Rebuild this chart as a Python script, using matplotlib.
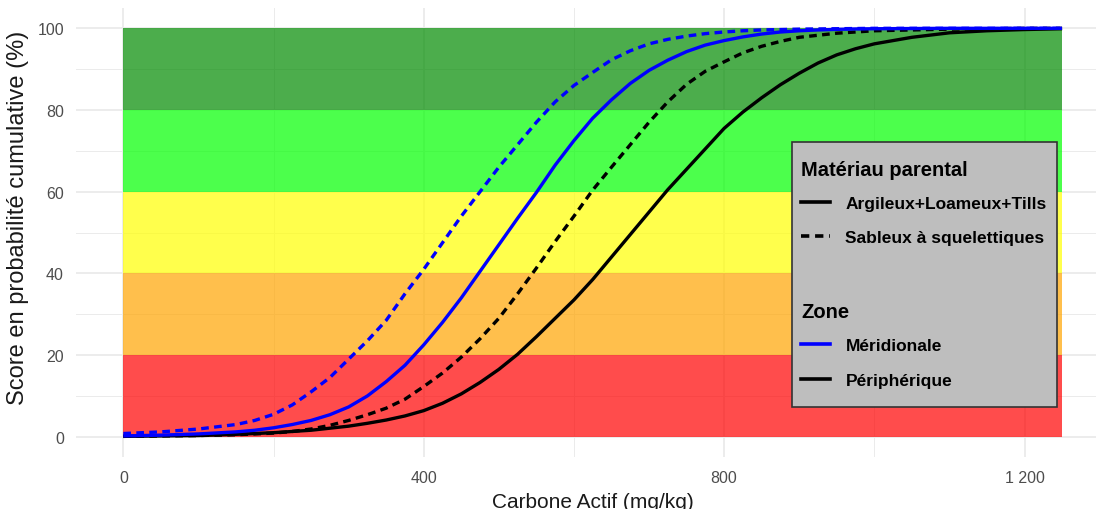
import matplotlib
matplotlib.use("Agg")
import matplotlib.pyplot as plt
from matplotlib.lines import Line2D
from matplotlib.patches import Rectangle

plt.rcParams['font.family'] = ['Liberation Sans', 'DejaVu Sans']

# ---- data ----
carbone = [0, 50, 100, 150, 175, 200, 225, 250, 275, 300, 325, 350, 375, 400, 425,
           450, 475, 500, 525, 550, 575, 600, 625, 650, 675, 700, 725, 750, 775,
           800, 825, 850, 875, 900, 925, 950, 975, 1000, 1050, 1100, 1150, 1200, 1250]

meri_argileux = [0.2, 0.4, 0.7, 1.2, 1.6, 2.2, 3.0, 4.0, 5.4, 7.3, 10.0, 13.5, 17.5,
                 22.5, 28.0, 34.0, 40.5, 47.0, 53.5, 59.8, 66.5, 72.5, 78.0, 82.5,
                 86.5, 89.7, 92.2, 94.3, 95.9, 97.0, 97.9, 98.6, 99.1, 99.4, 99.6,
                 99.75, 99.85, 99.9, 99.95, 100, 100, 100, 100]
meri_sableux = [0.8, 1.2, 1.9, 3.0, 4.0, 5.5, 7.8, 11.0, 14.5, 19.0, 23.5, 28.5, 35.0,
                41.0, 47.5, 54.0, 60.0, 66.0, 71.5, 77.0, 82.0, 86.0, 89.2, 92.3,
                94.5, 96.2, 97.3, 98.1, 98.7, 99.1, 99.4, 99.6, 99.7, 99.8, 99.85,
                99.9, 99.95, 100, 100, 100, 100, 100, 100]
peri_argileux = [0.1, 0.2, 0.3, 0.6, 0.8, 1.0, 1.3, 1.6, 2.1, 2.6, 3.3, 4.1, 5.1,
                 6.4, 8.2, 10.5, 13.3, 16.5, 20.2, 24.5, 29.0, 33.5, 38.5, 44.0,
                 49.5, 55.0, 60.5, 65.5, 70.5, 75.5, 79.5, 83.0, 86.2, 89.0, 91.5,
                 93.5, 95.0, 96.2, 97.8, 98.9, 99.4, 99.7, 99.9]
peri_sableux = [0.1, 0.2, 0.3, 0.5, 0.7, 0.9, 1.3, 1.9, 2.8, 4.0, 5.4, 7.0, 9.2,
                12.3, 15.6, 19.5, 24.0, 29.0, 35.0, 41.3, 47.8, 54.0, 60.4, 66.0,
                71.5, 77.0, 82.0, 86.3, 89.5, 91.8, 94.0, 95.6, 96.8, 97.8, 98.3,
                98.8, 99.1, 99.4, 99.6, 99.8, 99.9, 100, 100]

band_low = [0, 20, 40, 60, 80]
band_high = [20, 40, 60, 80, 100]
band_colors = ['#FF0000', '#FFA500', '#FFFF00', '#00FF00', '#008B00']
band_xmax = 1250

x_ticks = [0, 400, 800, 1200]
x_ticklabels = ['0', '400', '800', '1 200']
y_ticks = [0, 20, 40, 60, 80, 100]

zone_colors = {'Méridionale': '#0000FF', 'Périphérique': '#000000'}
mat_styles = {'Argileux+Loameux+Tills': '-', 'Sableux à squelettiques': (0, (2.3, 1.6))}

W, H = 1096, 510
fig = plt.figure(figsize=(W / 100, H / 100), dpi=100)
fig.patch.set_facecolor('white')

# axes geometry in pixels (panel extends slightly beyond the cropped image)
left_px, right_px, top_px, bottom_px = 76.4, 1109.0, 8.9, 458.2
ax = fig.add_axes([left_px / W, 1 - bottom_px / H, (right_px - left_px) / W,
                   (bottom_px - top_px) / H])
ax.set_xlim(-62.5, 1312.5)
ax.set_ylim(-5, 105)

# grid
for v in [0, 200, 400, 600, 800, 1000, 1200]:
    ax.axvline(v, color='#EBEBEB', lw=1.3 if v % 400 == 0 else 0.7, zorder=0)
for v in range(0, 101, 10):
    ax.axhline(v, color='#EBEBEB', lw=1.3 if v % 20 == 0 else 0.7, zorder=0)

# bands
for lo, hi, c in zip(band_low, band_high, band_colors):
    ax.fill_between([0, band_xmax], lo, hi, color=c, alpha=0.7, lw=0, zorder=1)

# curves
series = [
    ('Périphérique', 'Argileux+Loameux+Tills', peri_argileux),
    ('Périphérique', 'Sableux à squelettiques', peri_sableux),
    ('Méridionale', 'Argileux+Loameux+Tills', meri_argileux),
    ('Méridionale', 'Sableux à squelettiques', meri_sableux),
]
for zone, mat, vals in series:
    ax.plot(carbone, vals, color=zone_colors[zone], linestyle=mat_styles[mat],
            lw=2.4, zorder=3, solid_capstyle='butt', dash_capstyle='butt',
            solid_joinstyle='round')

for s in ax.spines.values():
    s.set_visible(False)
ax.tick_params(length=0, labelsize=11.5, labelcolor='#4D4D4D')
ax.tick_params(axis='x', pad=9)
ax.tick_params(axis='y', pad=9)
ax.set_xticks(x_ticks)
ax.set_xticklabels(x_ticklabels)
ax.set_yticks(y_ticks)
ax.set_xlabel('Carbone Actif (mg/kg)', fontsize=15, color='#1A1A1A', labelpad=5)
fig.text(18 / W, 1 - 218 / H, 'Score en probabilité cumulative (%)', rotation=90,
         ha='center', va='center', fontsize=17, color='#1A1A1A')

# legend box
fig.patches.append(Rectangle((792 / W, 1 - 408 / H), (1057 - 792) / W, (408 - 143) / H,
                             transform=fig.transFigure, facecolor='#BEBEBE',
                             edgecolor='#333333', lw=1.2, zorder=5))

h1 = [Line2D([], [], color='black', lw=2.6, linestyle=mat_styles[m]) for m in mat_styles]
h2 = [Line2D([], [], color=zone_colors[z], lw=2.6) for z in zone_colors]
common = dict(frameon=False, loc='upper left', borderpad=0, borderaxespad=0,
              handlelength=1.67, handletextpad=0.86, labelspacing=1.12,
              alignment='left',
              prop={'weight': 'bold', 'size': 12.5},
              title_fontproperties={'weight': 'bold', 'size': 14.5})
leg1 = fig.legend(h1, list(mat_styles), title='Matériau parental',
                  bbox_to_anchor=(801.5 / W, 1 - 161 / H), **common)
leg2 = fig.legend(h2, list(zone_colors), title='Zone',
                  bbox_to_anchor=(801.5 / W, 1 - 303.5 / H), **common)
for lg in (leg1, leg2):
    lg.set_zorder(6)
    lg._legend_box.sep = 12

fig.savefig('out.png', dpi=100)
